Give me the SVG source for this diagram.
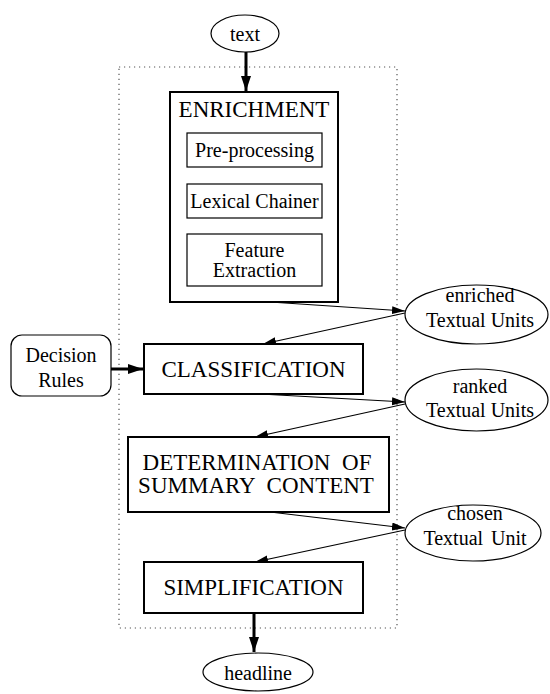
<svg xmlns="http://www.w3.org/2000/svg" width="550" height="694" viewBox="0 0 550 694">
<defs>
<style>
text{font-family:"Liberation Serif","Times New Roman",serif;fill:#000;text-anchor:middle}
.t20{font-size:20px}
.t23{font-size:23px}
.main{fill:#fff;stroke:#000;stroke-width:2}
.sub{fill:#fff;stroke:#000;stroke-width:1.2}
.ell{fill:#fff;stroke:#000;stroke-width:1.2}
.thin{fill:none;stroke:#000;stroke-width:1.2}
.thick{fill:none;stroke:#000;stroke-width:3}
.dots{fill:none;stroke:#555;stroke-width:1.2;stroke-dasharray:1.2 3.8}
</style>
<marker id="ah" markerUnits="userSpaceOnUse" markerWidth="14" markerHeight="10" refX="13" refY="4" orient="auto">
<path d="M0,0 L13,4 L0,8 Z" fill="#000"/>
</marker>
<marker id="ahb" markerUnits="userSpaceOnUse" markerWidth="16" markerHeight="12" refX="15" refY="5" orient="auto">
<path d="M0,0 L15,5 L0,10 Z" fill="#000"/>
</marker>
</defs>

<rect class="dots" x="119" y="67" width="278" height="561"/>

<g id="connectors">
<line class="thick" x1="246" y1="52" x2="246" y2="91" marker-end="url(#ahb)"/>
<line class="thick" x1="111" y1="369" x2="143" y2="369" marker-end="url(#ahb)"/>
<line class="thick" x1="254" y1="613" x2="254" y2="652" marker-end="url(#ahb)"/>
<line class="thin" x1="270" y1="302" x2="405" y2="311" marker-end="url(#ah)"/>
<line class="thin" x1="405" y1="313" x2="263" y2="344" marker-end="url(#ah)"/>
<line class="thin" x1="260" y1="394" x2="405" y2="402" marker-end="url(#ah)"/>
<line class="thin" x1="405" y1="404" x2="255" y2="437" marker-end="url(#ah)"/>
<line class="thin" x1="270" y1="512" x2="405" y2="528" marker-end="url(#ah)"/>
<line class="thin" x1="405" y1="530" x2="255" y2="562" marker-end="url(#ah)"/>
</g>

<g id="text-node">
<ellipse class="ell" cx="245" cy="33.5" rx="34" ry="18.5"/>
<text class="t20" x="245" y="41">text</text>
</g>

<g id="enrichment">
<rect class="main" x="170" y="92" width="168" height="210"/>
<text class="t23" x="254" y="117">ENRICHMENT</text>
</g>

<g id="preprocessing">
<rect class="sub" x="187" y="133" width="135" height="34"/>
<text class="t20" x="254.5" y="157">Pre-processing</text>
</g>

<g id="lexical-chainer">
<rect class="sub" x="187" y="184" width="135" height="34"/>
<text class="t20" x="254.5" y="208">Lexical Chainer</text>
</g>

<g id="feature-extraction">
<rect class="sub" x="187" y="234" width="135" height="52"/>
<text class="t20" x="254.5" y="257">Feature</text>
<text class="t20" x="254.5" y="277">Extraction</text>
</g>

<g id="decision-rules">
<rect class="sub" x="11" y="335" width="100" height="61" rx="11" ry="11"/>
<text class="t20" x="61" y="362">Decision</text>
<text class="t20" x="61" y="387">Rules</text>
</g>

<g id="classification">
<rect class="main" x="144" y="344" width="219" height="50"/>
<text class="t23" x="253.5" y="377">CLASSIFICATION</text>
</g>

<g id="enriched-units">
<ellipse class="ell" cx="476.5" cy="314.5" rx="71.5" ry="29.5"/>
<text class="t20" x="480" y="302">enriched</text>
<text class="t20" x="480" y="327">Textual Units</text>
</g>

<g id="ranked-units">
<ellipse class="ell" cx="476.5" cy="400" rx="71.5" ry="31"/>
<text class="t20" x="480" y="393">ranked</text>
<text class="t20" x="480" y="417">Textual Units</text>
</g>

<g id="determination">
<rect class="main" x="128" y="437" width="261" height="75"/>
<text class="t23" x="257" y="470" style="word-spacing:6px">DETERMINATION OF</text>
<text class="t23" x="256" y="493" style="word-spacing:6px">SUMMARY CONTENT</text>
</g>

<g id="chosen-unit">
<ellipse class="ell" cx="473" cy="533" rx="68" ry="28"/>
<text class="t20" x="475" y="520">chosen</text>
<text class="t20" x="475" y="545" style="word-spacing:3px">Textual Unit</text>
</g>

<g id="simplification">
<rect class="main" x="144" y="562" width="219" height="51"/>
<text class="t23" x="253.5" y="595">SIMPLIFICATION</text>
</g>

<g id="headline">
<ellipse class="ell" cx="258" cy="672" rx="55" ry="19"/>
<text class="t20" x="258" y="680">headline</text>
</g>
</svg>
